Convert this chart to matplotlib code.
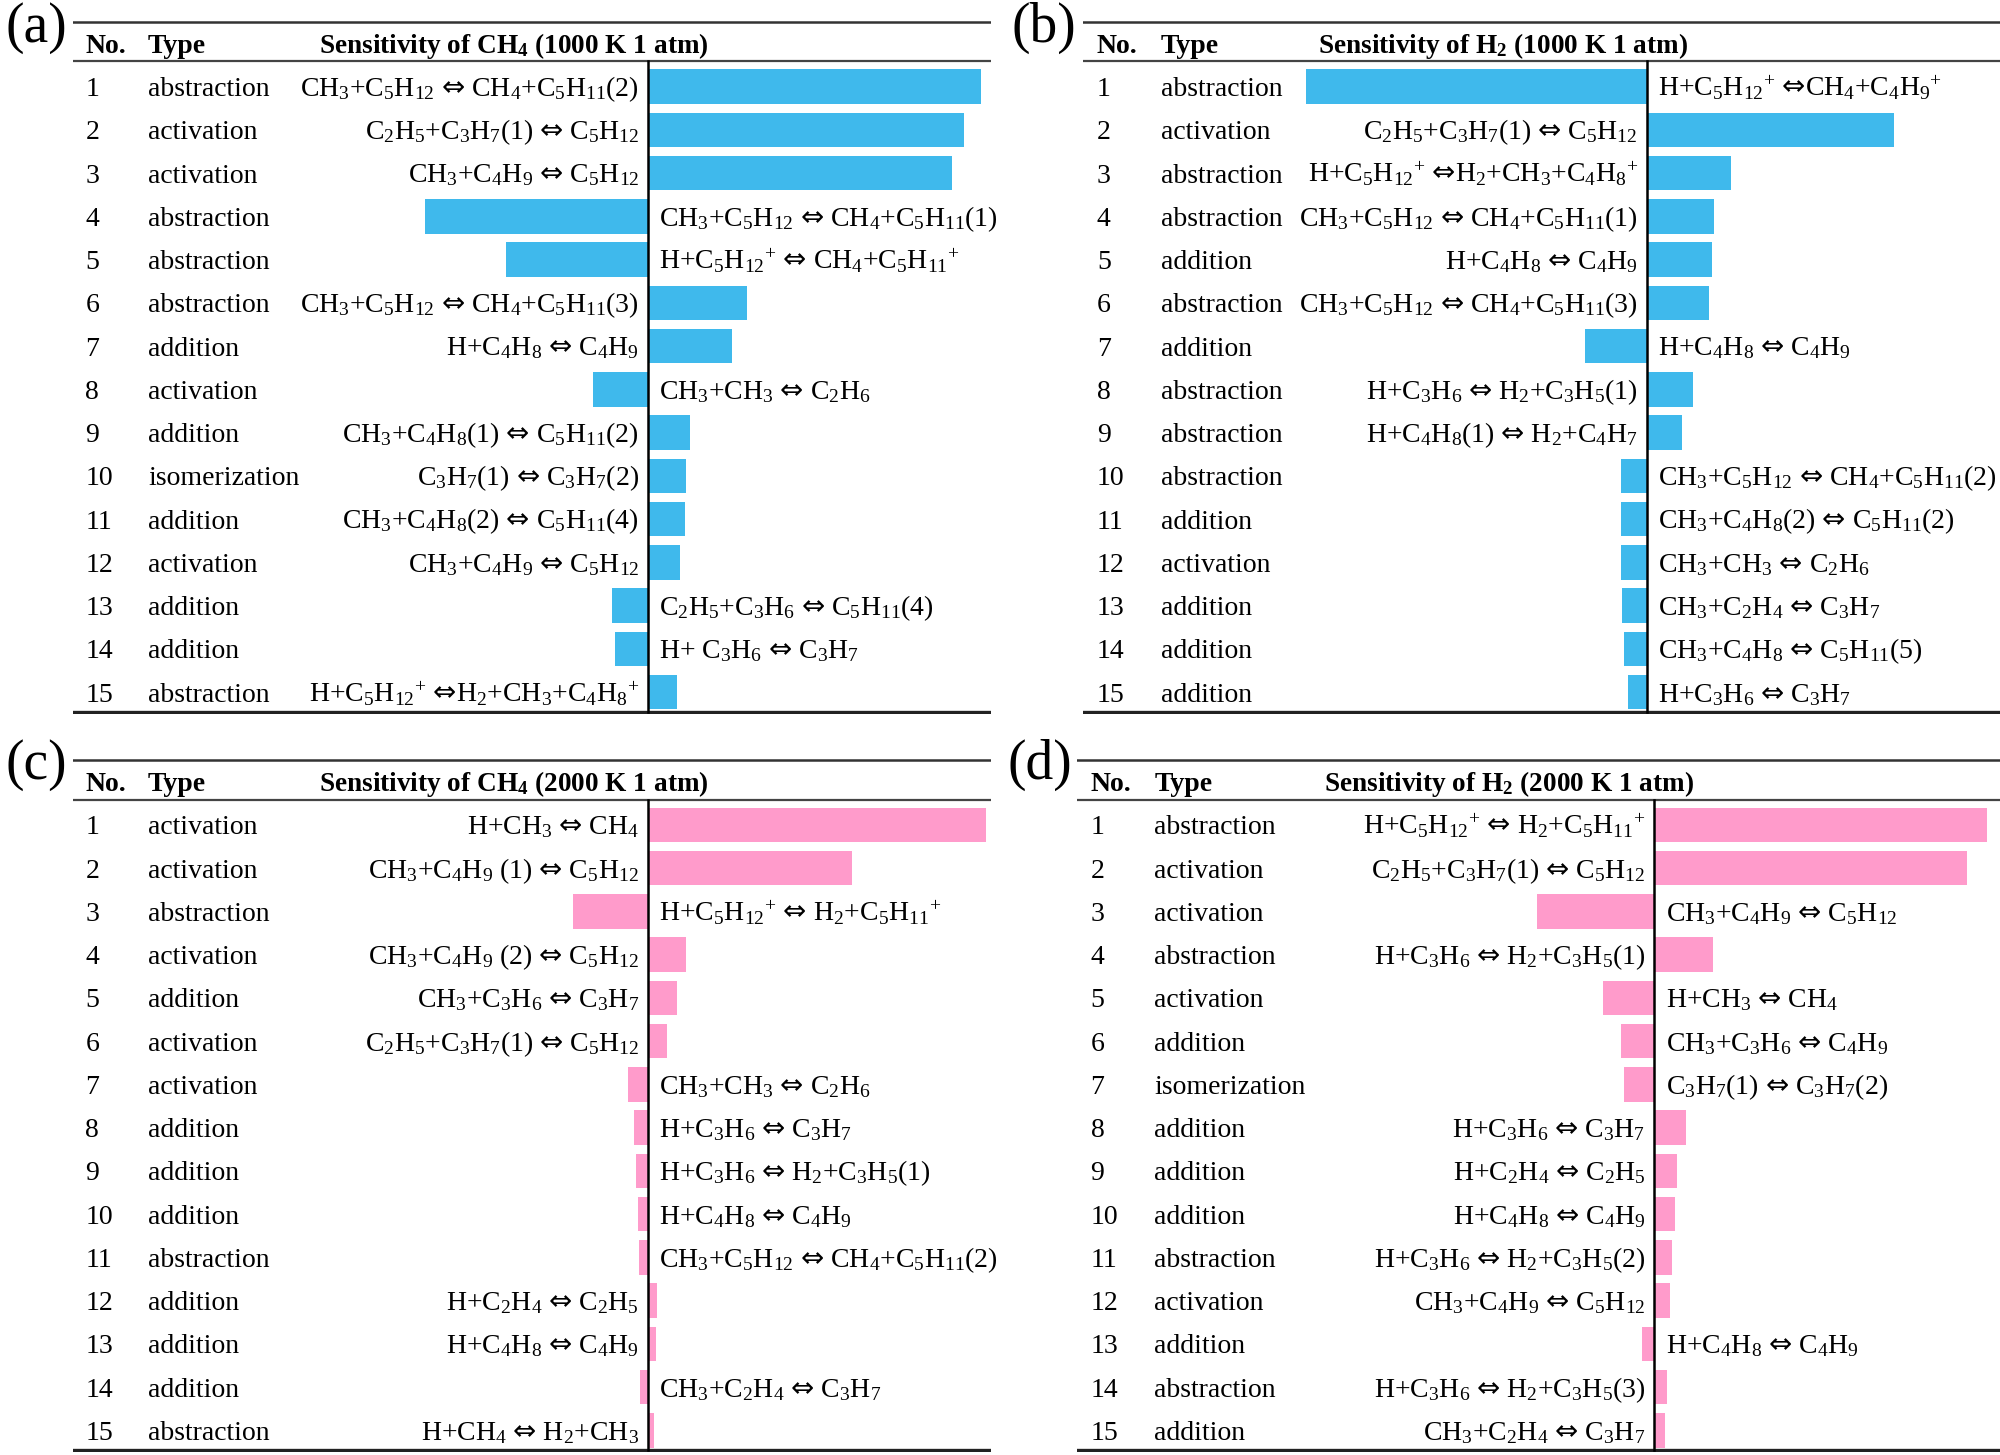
import re
import matplotlib
matplotlib.use('Agg')
import matplotlib.pyplot as plt

plt.rcParams['font.family'] = ['Liberation Serif', 'DejaVu Serif']
plt.rcParams['mathtext.fontset'] = 'custom'
plt.rcParams['mathtext.rm'] = 'Liberation Serif'
plt.rcParams['mathtext.sf'] = 'DejaVu Sans'
plt.rcParams['mathtext.default'] = 'regular'

#Panel (a): CH4, 1000 K
types_a = ['abstraction', 'activation', 'activation', 'abstraction', 'abstraction',
           'abstraction', 'addition', 'activation', 'addition', 'isomerization',
           'addition', 'activation', 'addition', 'addition', 'abstraction']
rxn_a = ['CH3+C5H12 <=> CH4+C5H11(2)', 'C2H5+C3H7(1) <=> C5H12', 'CH3+C4H9 <=> C5H12',
         'CH3+C5H12 <=> CH4+C5H11(1)', 'H+C5H12^+ <=> CH4+C5H11^+',
         'CH3+C5H12 <=> CH4+C5H11(3)', 'H+C4H8 <=> C4H9', 'CH3+CH3 <=> C2H6',
         'CH3+C4H8(1) <=> C5H11(2)', 'C3H7(1) <=> C3H7(2)', 'CH3+C4H8(2) <=> C5H11(4)',
         'CH3+C4H9 <=> C5H12', 'C2H5+C3H6 <=> C5H11(4)', 'H+ C3H6 <=> C3H7',
         'H+C5H12^+ <=>H2+CH3+C4H8^+']
sens_a = [2.61, 2.48, 2.38, -1.75, -1.11, 0.78, 0.66, -0.43, 0.33, 0.30,
          0.29, 0.25, -0.28, -0.26, 0.23]

#Panel (b): H2, 1000 K
types_b = ['abstraction', 'activation', 'abstraction', 'abstraction', 'addition',
           'abstraction', 'addition', 'abstraction', 'abstraction', 'abstraction',
           'addition', 'activation', 'addition', 'addition', 'addition']
rxn_b = ['H+C5H12^+ <=>CH4+C4H9^+', 'C2H5+C3H7(1) <=> C5H12', 'H+C5H12^+ <=>H2+CH3+C4H8^+',
         'CH3+C5H12 <=> CH4+C5H11(1)', 'H+C4H8 <=> C4H9', 'CH3+C5H12 <=> CH4+C5H11(3)',
         'H+C4H8 <=> C4H9', 'H+C3H6 <=> H2+C3H5(1)', 'H+C4H8(1) <=> H2+C4H7',
         'CH3+C5H12 <=> CH4+C5H11(2)', 'CH3+C4H8(2) <=> C5H11(2)', 'CH3+CH3 <=> C2H6',
         'CH3+C2H4 <=> C3H7', 'CH3+C4H8 <=> C5H11(5)', 'H+C3H6 <=> C3H7']
sens_b = [-2.67, 1.94, 0.66, 0.53, 0.51, 0.49, -0.48, 0.36, 0.28, -0.20,
          -0.20, -0.20, -0.19, -0.18, -0.15]

#Panel (c): CH4, 2000 K
types_c = ['activation', 'activation', 'abstraction', 'activation', 'addition',
           'activation', 'activation', 'addition', 'addition', 'addition',
           'abstraction', 'addition', 'addition', 'addition', 'abstraction']
rxn_c = ['H+CH3 <=> CH4', 'CH3+C4H9 (1) <=> C5H12', 'H+C5H12^+ <=> H2+C5H11^+',
         'CH3+C4H9 (2) <=> C5H12', 'CH3+C3H6 <=> C3H7', 'C2H5+C3H7(1) <=> C5H12',
         'CH3+CH3 <=> C2H6', 'H+C3H6 <=> C3H7', 'H+C3H6 <=> H2+C3H5(1)',
         'H+C4H8 <=> C4H9', 'CH3+C5H12 <=> CH4+C5H11(2)', 'H+C2H4 <=> C2H5',
         'H+C4H8 <=> C4H9', 'CH3+C2H4 <=> C3H7', 'H+CH4 <=> H2+CH3']
sens_c = [2.65, 1.60, -0.59, 0.30, 0.23, 0.15, -0.16, -0.11, -0.09, -0.08,
          -0.07, 0.07, 0.06, -0.06, 0.05]

#Panel (d): H2, 2000 K
types_d = ['abstraction', 'activation', 'activation', 'abstraction', 'activation',
           'addition', 'isomerization', 'addition', 'addition', 'addition',
           'abstraction', 'activation', 'addition', 'abstraction', 'addition']
rxn_d = ['H+C5H12^+ <=> H2+C5H11^+', 'C2H5+C3H7(1) <=> C5H12', 'CH3+C4H9 <=> C5H12',
         'H+C3H6 <=> H2+C3H5(1)', 'H+CH3 <=> CH4', 'CH3+C3H6 <=> C4H9',
         'C3H7(1) <=> C3H7(2)', 'H+C3H6 <=> C3H7', 'H+C2H4 <=> C2H5',
         'H+C4H8 <=> C4H9', 'H+C3H6 <=> H2+C3H5(2)', 'CH3+C4H9 <=> C5H12',
         'H+C4H8 <=> C4H9', 'H+C3H6 <=> H2+C3H5(3)', 'CH3+C2H4 <=> C3H7']
sens_d = [2.61, 2.45, -0.92, 0.46, -0.40, -0.26, -0.24, 0.25, 0.18, 0.16,
          0.14, 0.12, -0.10, 0.10, 0.08]

titles = ['Sensitivity of CH$_4$ (1000 K 1 atm)', 'Sensitivity of H$_2$ (1000 K 1 atm)',
          'Sensitivity of CH$_4$ (2000 K 1 atm)', 'Sensitivity of H$_2$ (2000 K 1 atm)']
tags = ['(a)', '(b)', '(c)', '(d)']

BLUE = '#3FB9EC'
PINK = '#FF9BCB'
FS = 10


def chem(s):
    #digits after a letter become subscripts, ^+ superscript, <=> the hollow arrow
    s = re.sub(r'(?<=[A-Za-z])(\d+)', r'$_{\1}$', s)
    s = s.replace('^+', '$^{+}$')
    s = s.replace('<=>', '$\\mathsf{\u21d4}$')
    return s


def draw_panel(ax, title, types, rxns, sens, color, xlim, x_no, x_type, x_head):
    rows = list(range(1, len(sens) + 1))
    ax.barh(rows, sens, height=0.8, color=color)
    ax.set_xlim(xlim)
    ax.set_ylim(15.5, -0.55)
    ax.axis('off')
    ax.plot(xlim, [-0.5, -0.5], color='#333333', lw=0.9)
    ax.plot(xlim, [0.42, 0.42], color='#444444', lw=0.8)
    ax.plot(xlim, [15.45, 15.45], color='#222222', lw=1.2)
    ax.plot([0, 0], [0.42, 15.45], color='k', lw=0.9)

    dy = 0.22
    ax.text(x_no, dy, 'No.', fontsize=FS, fontweight='bold', va='baseline')
    ax.text(x_type, dy, 'Type', fontsize=FS, fontweight='bold', va='baseline')
    ax.text(x_head, dy, title, fontsize=FS - 0.2, fontweight='bold', va='baseline')
    for r, t, rx, v in zip(rows, types, rxns, sens):
        ax.text(x_no, r + dy, str(r), fontsize=FS, va='baseline')
        ax.text(x_type, r + dy, t, fontsize=FS, va='baseline')
        if v >= 0:
            ax.text(-0.07, r + dy, chem(rx), fontsize=FS, va='baseline', ha='right')
        else:
            ax.text(0.09, r + dy, chem(rx), fontsize=FS, va='baseline', ha='left')


fig = plt.figure(figsize=(10, 7.275), dpi=200)

top_h = (559.7 - 15.3) / 1141
ax_a = fig.add_axes([57 / 1568, 1 - 559.7 / 1141, (777 - 57) / 1568, top_h])
ax_b = fig.add_axes([849 / 1568, 1 - 559.7 / 1141, (1568 - 849) / 1568, top_h])
ax_c = fig.add_axes([57 / 1568, 1 - 1138.7 / 1141, (777 - 57) / 1568, top_h])
ax_d = fig.add_axes([844 / 1568, 1 - 1138.7 / 1141, (1568 - 844) / 1568, top_h])

draw_panel(ax_a, titles[0], types_a, rxn_a, sens_a, BLUE, (-4.51, 2.69), -4.41, -3.92, -2.58)
draw_panel(ax_b, titles[1], types_b, rxn_b, sens_b, BLUE, (-4.42, 2.77), -4.31, -3.81, -2.58)
draw_panel(ax_c, titles[2], types_c, rxn_c, sens_c, PINK, (-4.51, 2.69), -4.41, -3.92, -2.58)
draw_panel(ax_d, titles[3], types_d, rxn_d, sens_d, PINK, (-4.53, 2.71), -4.42, -3.92, -2.59)

#panel letters
for tag, (x, y) in zip(tags, [(0.003, 0.981), (0.506, 0.981), (0.003, 0.474), (0.504, 0.474)]):
    fig.text(x, y, tag, fontsize=20, va='center', ha='left')

fig.savefig('out.png', dpi=200)
